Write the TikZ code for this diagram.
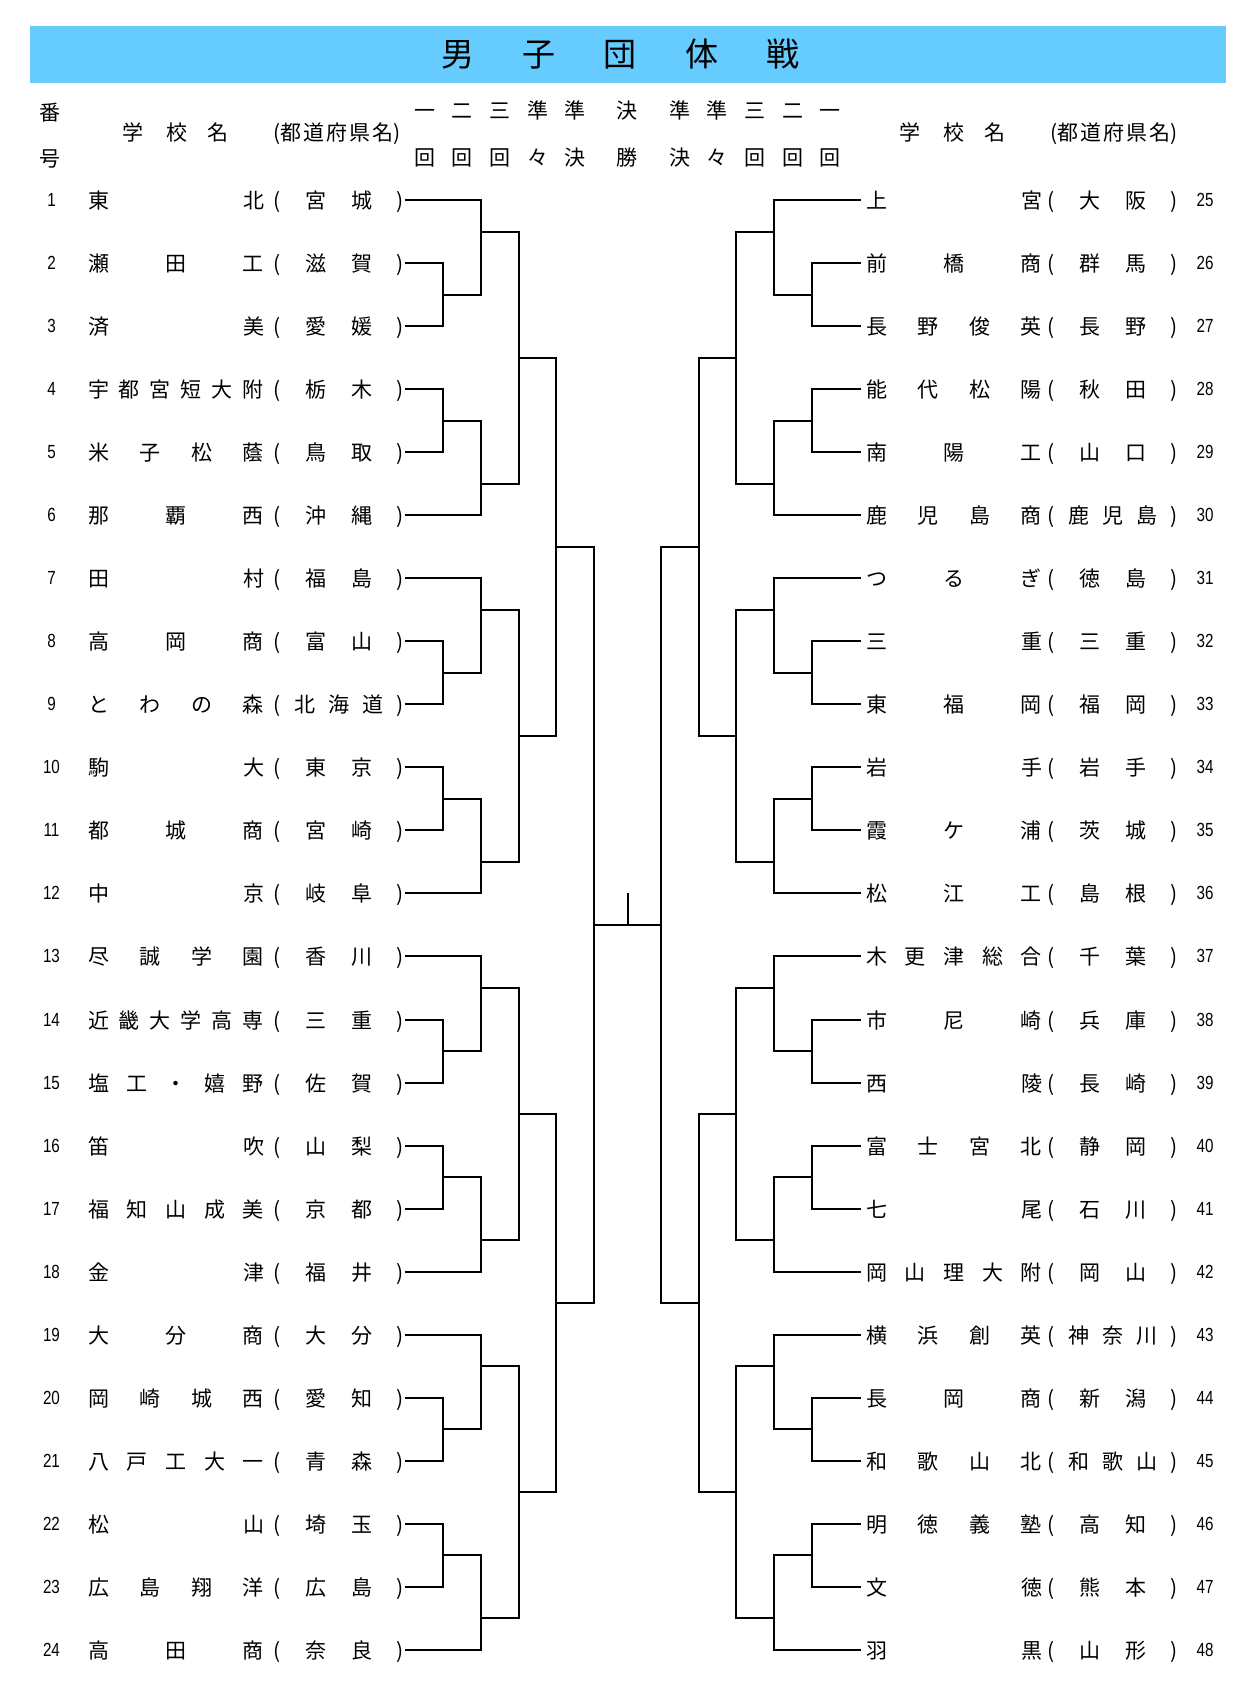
\documentclass[tikz,border=0pt]{standalone}
\usepackage{fontspec}
\setmainfont{Noto Sans CJK JP}
\newfontfamily\numfont[FakeStretch=0.8]{Liberation Sans}
\definecolor{titlebg}{HTML}{66CCFF}
\newcommand\tnum[1]{\makebox[30pt]{\raisebox{1.5pt}{\numfont\fontsize{19}{19}\selectfont #1}}}

\begin{document}
\begin{tikzpicture}[x=1pt, y=-1pt, line width=2pt,
  every node/.style={inner sep=0pt, text height=18.5pt, text depth=2.5pt, font=\fontsize{21}{21}\selectfont},
  lteam/.style={anchor=east}, rteam/.style={anchor=west}]
\useasboundingbox (0,0) rectangle (1246,1694);

% Title bar
\node[fill=titlebg, minimum width=1196pt, minimum height=57pt] (bar) at (628,54.5) {};
\node[font=\fontsize{33}{33}\selectfont, text height=29pt, text depth=4pt] (title) at (620.5,54) {\makebox[358pt][s]{男 子 団 体 戦}};

% Column heads
\node (ban) at (50,112) {番};
\node (go) at (50,158) {号};
\foreach \x/\c [count=\k] in {133/学, 177/校, 218/名} {
  \node (lh\k) at (\x,132) {\c};
  \node (rh\k) at (\x+777,132) {\c};
}
\node (lpref) at (337,132) {\makebox[127pt][s]{(都\hfil 道\hfil 府\hfil 県\hfil 名)}};
\node (rpref) at (1114,132) {\makebox[127pt][s]{(都\hfil 道\hfil 府\hfil 県\hfil 名)}};
\foreach \x/\u/\l [count=\k] in {425/一/回, 462/二/回, 500/三/回, 538/準/々, 575/準/決, 627/決/勝, 680/準/決, 717/準/々, 755/三/回, 793/二/回, 830/一/回} {
  \node (ru\k) at (\x,110) {\u};
  \node (rl\k) at (\x,157) {\l};
}

% Teams, left
\foreach \nm/\pf [count=\i] in {東 北/宮 城, 瀬 田 工/滋 賀, 済 美/愛 媛, 宇 都 宮 短 大 附/栃 木, 米 子 松 蔭/鳥 取, 那 覇 西/沖 縄, 田 村/福 島, 高 岡 商/富 山, と わ の 森/北 海 道, 駒 大/東 京, 都 城 商/宮 崎, 中 京/岐 阜, 尽 誠 学 園/香 川, 近 畿 大 学 高 専/三 重, 塩 工 ・ 嬉 野/佐 賀, 笛 吹/山 梨, 福 知 山 成 美/京 都, 金 津/福 井, 大 分 商/大 分, 岡 崎 城 西/愛 知, 八 戸 工 大 一/青 森, 松 山/埼 玉, 広 島 翔 洋/広 島, 高 田 商/奈 良} {
  \node[lteam] (lt\i) at (405,{round(200+63.04*(\i-1))}) {\tnum{\i}\hspace{21.5pt}\makebox[176pt][s]{\nm}\hspace{10pt}\makebox[130pt][s]{( \pf{} )}\hspace{4pt}};
}

% Teams, right
\foreach \nm/\pf [count=\i] in {上 宮/大 阪, 前 橋 商/群 馬, 長 野 俊 英/長 野, 能 代 松 陽/秋 田, 南 陽 工/山 口, 鹿 児 島 商/鹿 児 島, つ る ぎ/徳 島, 三 重/三 重, 東 福 岡/福 岡, 岩 手/岩 手, 霞 ケ 浦/茨 城, 松 江 工/島 根, 木 更 津 総 合/千 葉, 市 尼 崎/兵 庫, 西 陵/長 崎, 富 士 宮 北/静 岡, 七 尾/石 川, 岡 山 理 大 附/岡 山, 横 浜 創 英/神 奈 川, 長 岡 商/新 潟, 和 歌 山 北/和 歌 山, 明 徳 義 塾/高 知, 文 徳/熊 本, 羽 黒/山 形} {
  \node[rteam] (rt\i) at (861,{round(200+63.04*(\i-1))}) {\hspace{4pt}\makebox[176pt][s]{\nm}\hspace{6pt}\makebox[130pt][s]{( \pf{} )}\hspace{12pt}\tnum{\the\numexpr\i+24\relax}};
}

% Bracket joints
\foreach \nm/\x/\r in {a1/443/2.5, a2/443/4.5, a3/443/8.5, a4/443/10.5, a5/443/14.5, a6/443/16.5, a7/443/20.5, a8/443/22.5,
  b1/481/1.5, b2/481/5.5, b3/481/7.5, b4/481/11.5, b5/481/13.5, b6/481/17.5, b7/481/19.5, b8/481/23.5,
  c1/519/3.5, c2/519/9.5, c3/519/15.5, c4/519/21.5, d1/556/6.5, d2/556/18.5, e1/594/12.5} {
  \coordinate (l\nm) at (\x,{round(200+63.04*(\r-1))});
  \coordinate (r\nm) at (1255-\x,{round(200+63.04*(\r-1))});
}

% Bracket lines
\foreach \t/\j/\b in {t2/a1/t3, t4/a2/t5, t8/a3/t9, t10/a4/t11, t14/a5/t15, t16/a6/t17, t20/a7/t21, t22/a8/t23,
  t1/b1/a1, a2/b2/t6, t7/b3/a3, a4/b4/t12, t13/b5/a5, a6/b6/t18, t19/b7/a7, a8/b8/t24,
  b1/c1/b2, b3/c2/b4, b5/c3/b6, b7/c4/b8, c1/d1/c2, c3/d2/c4, d1/e1/d2} {
  \draw (l\t.east) -| (l\j) |- (l\b.east);
  \draw (r\t.west) -| (r\j) |- (r\b.west);
}

% Final
\coordinate (champ) at (628,{round(200+63.04*11)});
\draw (le1) -- (re1);
\draw (champ) -- (champ |- le1);
\end{tikzpicture}
\end{document}
